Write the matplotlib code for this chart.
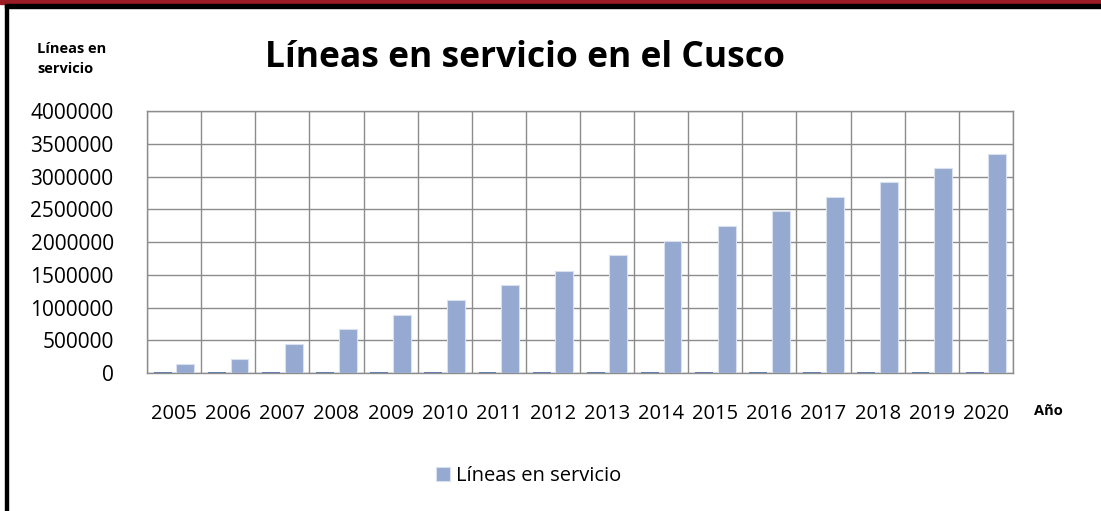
import matplotlib
matplotlib.use("Agg")
import matplotlib.pyplot as plt
import numpy as np

plt.rcParams['font.family'] = ['Open Sans', 'DejaVu Sans']

anios = [2005, 2006, 2007, 2008, 2009, 2010, 2011, 2012,
         2013, 2014, 2015, 2016, 2017, 2018, 2019, 2020]
lineas = [130000, 218000, 438000, 670000, 890000, 1110000, 1340000, 1560000,
          1800000, 2010000, 2240000, 2470000, 2680000, 2920000, 3130000, 3350000]
yticks = [0, 500000, 1000000, 1500000, 2000000, 2500000, 3000000, 3500000, 4000000]

W, H = 1101, 511
fig = plt.figure(figsize=(W / 100, H / 100), dpi=100)

# plot area in pixels: left 147, right 1013, top 111, bottom 373
ax = fig.add_axes([147 / W, 1 - 373 / H, (1013 - 147) / W, (373 - 111) / H])

x = np.arange(len(anios))
# the "Año" series drawn as a (tiny) bar next to each value
ax.bar(x - 0.21, anios, width=0.33, color='#4f6fa8', edgecolor='#4f6fa8',
       linewidth=1.2, zorder=3)
ax.bar(x + 0.21, lineas, width=0.33, color='#95a9d1', edgecolor='#d9e0ee',
       linewidth=0.8, zorder=3, label='Líneas en servicio')

ax.set_xlim(-0.5, len(anios) - 0.5)
ax.set_ylim(0, 4000000)
ax.set_yticks(yticks)
ax.set_yticklabels([str(v) for v in yticks], fontsize=15)
ax.set_xticks(x)
ax.set_xticklabels([str(a) for a in anios], fontsize=14.5)
ax.set_xticks(np.arange(len(anios) + 1) - 0.5, minor=True)
ax.tick_params(axis='both', which='both', length=0)
ax.tick_params(axis='x', pad=22)
ax.tick_params(axis='y', pad=24)

ax.grid(True, axis='y', color='#8c8c8c', linewidth=1.0, zorder=0)
ax.grid(True, axis='x', which='minor', color='#8c8c8c', linewidth=1.0, zorder=0)
ax.grid(False, axis='x', which='major')
for s in ax.spines.values():
    s.set_color('#8c8c8c')
    s.set_linewidth(1.0)

fig.text(525 / W, 1 - 58 / H, 'Líneas en servicio en el Cusco', fontsize=25.5,
         fontweight='bold', ha='center', va='center')
fig.text(37 / W, 1 - 59 / H, 'Líneas en\nservicio', fontsize=10.5,
         fontweight='bold', ha='left', va='center', linespacing=1.55)
fig.text(1034 / W, 1 - 411 / H, 'Año', fontsize=10.5, fontweight='bold',
         ha='left', va='center')

fig.legend(loc='center', bbox_to_anchor=(529 / W, 1 - 476 / H), frameon=False,
           fontsize=14.5, handlelength=0.7, handleheight=0.7, handletextpad=0.3)

# frame: dark red band on top, black lines at top and left
fig.patches.append(plt.Rectangle((0, 1 - 4 / H), 1, 4 / H, transform=fig.transFigure,
                                 color='#9b1c24', zorder=10))
fig.patches.append(plt.Rectangle((5 / W, 1 - 8 / H), 1, 4 / H, transform=fig.transFigure,
                                 color='black', zorder=10))
fig.patches.append(plt.Rectangle((5 / W, 0), 3 / W, 1 - 5 / H, transform=fig.transFigure,
                                 color='black', zorder=10))

fig.savefig('out.png', dpi=100)
